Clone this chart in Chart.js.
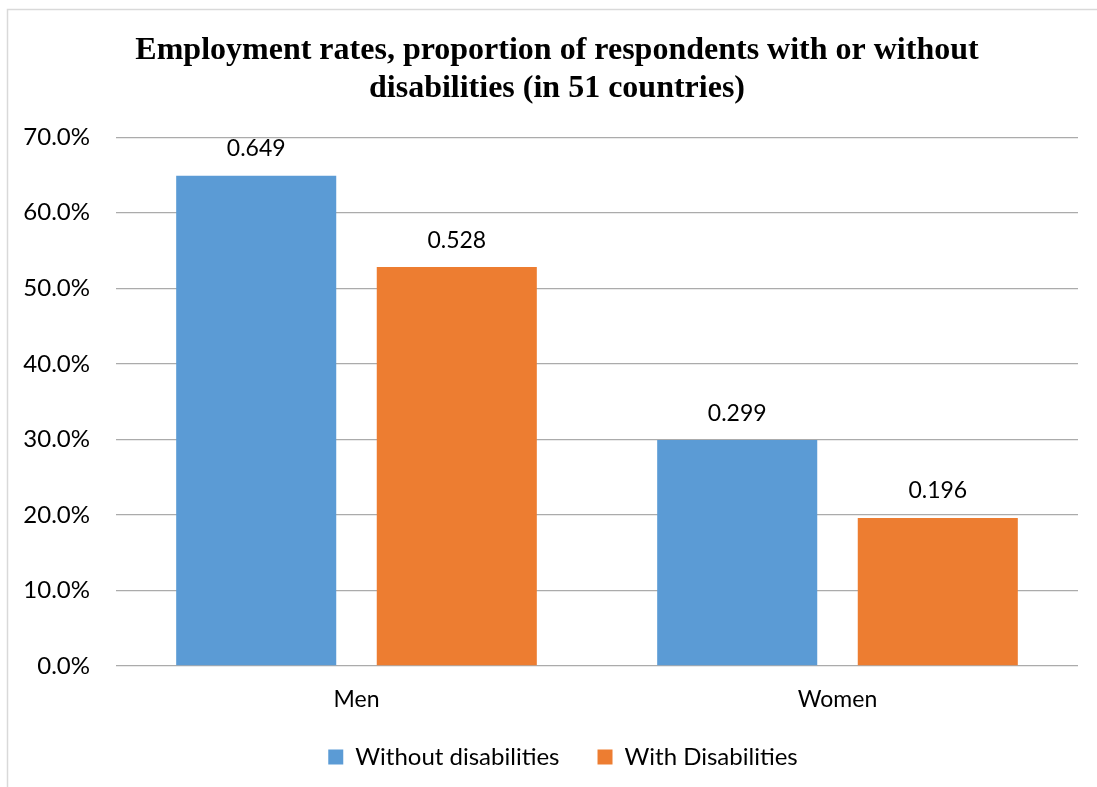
<!DOCTYPE html>
<html lang="en">

<head>
    <meta charset="UTF-8">
    <title>Employment rates</title>
    <style>
        body { margin: 0; background: #fff; }
        #wrap { width: 1097px; height: 787px; }
    </style>
</head>

<body>
    <div id="wrap">
        <canvas id="myChart"></canvas>
    </div>

    <script src="https://cdn.jsdelivr.net/npm/chart.js"></script>
    <script>
        // data
        const categories = ['Men', 'Women'];
        const withoutDisabilities = [0.649, 0.299];
        const withDisabilities = [0.528, 0.196];
        const yTicks = [0, 0.1, 0.2, 0.3, 0.4, 0.5, 0.6, 0.7];

        const fontName = 'Lato';

        // frame round the chart like the office one
        const framePlugin = {
            id: 'frame',
            beforeDraw(chart) {
                const c = chart.ctx;
                c.save();
                c.strokeStyle = '#d9d9d9';
                c.lineWidth = 1.5;
                c.strokeRect(7.5, 9.5, 3000, 3000);
                c.restore();
            },
            // title and legend sit a bit right of the canvas centre in the original
            afterLayout(chart) {
                const t = chart.titleBlock;
                if (t) { t.left += 14; t.right += 14; }
                const lg = chart.legend;
                if (lg) { lg.left += 20; lg.right += 20; }
            }
        };

        // value labels over the bars
        const valueLabels = {
            id: 'valueLabels',
            afterDatasetsDraw(chart) {
                const c = chart.ctx;
                c.save();
                c.font = '23px ' + fontName;
                c.fillStyle = '#000';
                c.textAlign = 'center';
                c.textBaseline = 'middle';
                chart.data.datasets.forEach((ds, i) => {
                    chart.getDatasetMeta(i).data.forEach((bar, j) => {
                        c.fillText(ds.data[j].toFixed(3), bar.x, bar.y - 27);
                    });
                });
                c.restore();
            }
        };

        new Chart(document.getElementById('myChart'), {
            type: 'bar',
            data: {
                labels: categories,
                datasets: [{
                    label: 'Without disabilities',
                    data: withoutDisabilities,
                    backgroundColor: '#5b9bd5',
                    categoryPercentage: 0.834,
                    barPercentage: 0.798
                }, {
                    label: 'With Disabilities',
                    data: withDisabilities,
                    backgroundColor: '#ed7d31',
                    categoryPercentage: 0.834,
                    barPercentage: 0.798
                }]
            },
            options: {
                responsive: true,
                maintainAspectRatio: false,
                animation: false,
                layout: {
                    padding: { left: 8, right: 19, top: 9, bottom: 8 }
                },
                scales: {
                    x: {
                        afterFit(scale) { scale.height = 41; },
                        grid: { display: false, drawTicks: false },
                        border: { display: false },
                        ticks: {
                            color: '#000',
                            padding: 20,
                            font: { family: fontName, size: 23 }
                        }
                    },
                    y: {
                        min: 0,
                        max: 0.7,
                        afterFit(scale) { scale.width = 108; },
                        afterBuildTicks(scale) {
                            scale.ticks = yTicks.map(v => ({ value: v }));
                        },
                        grid: { color: '#ababab', lineWidth: 1.3, drawTicks: false },
                        border: { display: false },
                        ticks: {
                            color: '#000',
                            padding: 26,
                            font: { family: fontName, size: 24 },
                            callback: v => (v * 100).toFixed(1) + '%'
                        }
                    }
                },
                plugins: {
                    title: {
                        display: true,
                        text: ['Employment rates, proportion of respondents with or without', 'disabilities (in 51 countries)'],
                        color: '#000',
                        font: { family: 'Liberation Serif', size: 32, weight: 'bold', lineHeight: 1.19 },
                        padding: { top: 23, bottom: 29 }
                    },
                    legend: {
                        position: 'bottom',
                        labels: {
                            color: '#000',
                            boxWidth: 15,
                            boxHeight: 15,
                            padding: 38,
                            font: { family: fontName, size: 24 }
                        }
                    },
                    tooltip: { enabled: false }
                }
            },
            plugins: [framePlugin, valueLabels]
        });
    </script>
</body>

</html>
